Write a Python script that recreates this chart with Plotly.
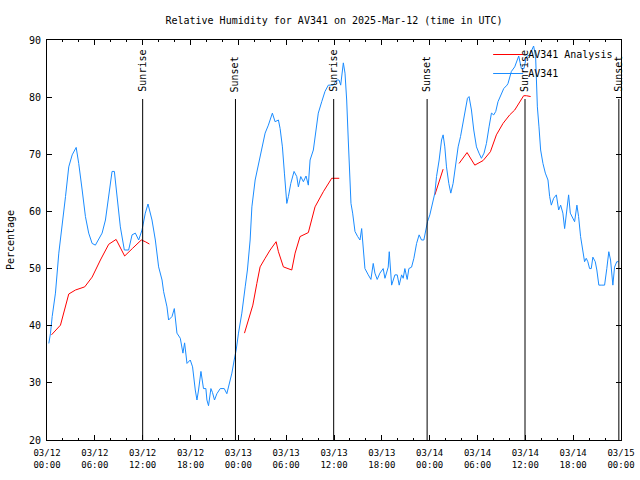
import pandas as pd
import plotly.graph_objects as go

base = pd.Timestamp("2025-03-12 00:00")

# AV341 observations: hours after 2025-03-12 00:00 UTC, relative humidity (%)
obs_hours = [0.23, 0.44, 0.65, 1.06, 1.48, 1.90, 2.32, 2.73, 3.16, 3.66, 3.98, 4.41, 4.82, 5.23, 5.66,
             6.07, 6.49, 6.91, 7.33, 7.74, 8.16, 8.45, 8.79, 9.20, 9.70, 10.24, 10.67, 11.08, 11.50,
             11.92, 12.33, 12.67, 13.17, 13.59, 14.00, 14.43, 14.63, 15.05, 15.25, 15.68, 15.97,
             16.30, 16.72, 17.05, 17.26, 17.56, 17.97, 18.26, 18.60, 18.81, 19.01, 19.31, 19.63,
             19.93, 20.06, 20.26, 20.56, 20.76, 21.01, 21.31, 21.73, 22.23, 22.56, 22.89, 23.19,
             23.48, 23.73, 24.02, 24.44, 24.86, 25.14, 25.48, 25.70, 26.11, 26.52, 26.95, 27.36,
             27.77, 28.27, 28.61, 29.03, 29.24, 29.53, 29.78, 30.08, 30.28, 30.58, 30.99, 31.33,
             31.53, 31.83, 32.16, 32.49, 32.78, 33.00, 33.41, 33.62, 34.03, 34.46, 34.87, 35.29,
             35.91, 36.34, 36.63, 36.84, 37.17, 37.38, 37.59, 37.79, 38.00, 38.13, 38.34, 38.63,
             38.97, 39.26, 39.47, 39.67, 39.88, 40.30, 40.63, 40.92, 41.13, 41.42, 41.76, 42.17,
             42.39, 42.80, 42.93, 43.23, 43.64, 43.93, 44.18, 44.48, 44.68, 44.89, 45.18, 45.39,
             45.73, 46.02, 46.36, 46.68, 46.98, 47.27, 47.52, 47.73, 48.02, 48.36, 48.65, 48.86,
             49.19, 49.49, 49.69, 49.90, 50.11, 50.40, 50.65, 50.94, 51.24, 51.57, 51.87, 52.19,
             52.53, 52.74, 52.94, 53.24, 53.53, 53.87, 54.19, 54.49, 54.82, 55.12, 55.45, 55.75,
             56.04, 56.29, 56.57, 56.91, 57.29, 57.70, 57.83, 58.25, 58.67, 59.17, 59.50, 59.83,
             60.13, 60.54, 61.04, 61.29, 61.51, 61.71, 61.92, 62.21, 62.51, 62.84, 63.05, 63.26,
             63.55, 63.89, 64.18, 64.43, 64.71, 64.93, 65.14, 65.43, 65.64, 65.97, 66.18, 66.47,
             66.68, 66.93, 67.22, 67.43, 67.64, 67.84, 68.06, 68.27, 68.47, 68.77, 68.97, 69.22,
             69.60, 69.94, 70.22, 70.47, 70.69, 70.85, 70.98, 71.19, 71.47, 71.69]
obs_rh = [36.9, 38.7, 41.6, 45.7, 52.7, 57.3, 62.6, 67.8, 69.9, 71.2, 68.4, 63.75, 59.1, 56.2, 54.4,
          54.1, 55.1, 56.2, 58.5, 62.6, 67.0, 67.0, 62.0, 57.3, 53.25, 53.25, 55.9, 56.2, 55.0,
          56.75, 59.7, 61.3, 58.5, 55.0, 50.3, 48.0, 45.95, 43.3, 41.0, 41.6, 43.0,
          38.7, 37.8, 35.2, 37.0, 33.4, 34.0, 32.8, 28.75, 27.0, 28.75, 32.0, 29.0,
          29.0, 27.0, 26.0, 29.0, 28.3, 27.0, 28.1, 29.0, 29.0, 28.1, 29.9, 31.7,
          34.0, 35.75, 38.7, 42.2, 46.8, 49.75, 55.0, 60.8, 65.5, 68.4, 71.3, 73.7,
          75.1, 77.2, 75.7, 76.0, 74.5, 71.3, 66.7, 61.4, 62.6, 64.9, 67.0, 66.1,
          64.3, 66.1, 65.2, 66.2, 64.6, 69.0, 70.75, 73.1, 77.2, 79.2, 81.0, 82.1,
          82.1, 83.0, 83.0, 82.1, 86.0, 84.2, 79.5, 72.5, 66.7, 61.4, 59.7, 56.5,
          55.6, 55.0, 57.0, 53.25, 50.0, 48.9, 48.1, 50.9, 49.2, 48.1, 49.2, 50.0,
          48.3, 50.25, 52.95, 47.1, 48.9, 48.9, 47.1, 48.9, 48.3, 50.0, 48.1, 50.0,
          50.25, 51.8, 54.4, 55.9, 55.0, 55.0, 56.75, 58.2, 59.4, 61.4, 63.2, 66.1,
          69.0, 72.5, 73.4, 71.3, 67.8, 64.9, 63.2, 64.9, 67.8, 71.3, 73.1, 75.4,
          78.3, 79.8, 80.1, 77.75, 74.25, 71.3, 70.2, 69.3, 70.2, 71.9, 74.8, 77.2,
          76.9, 77.5, 79.2, 80.4, 81.5, 82.1, 82.4, 84.5, 85.3, 87.2, 85.0, 85.0,
          87.1, 87.4, 88.95, 87.1, 78.3, 74.8, 70.75, 68.4, 66.7, 65.5, 62.6, 61.1,
          62.3, 62.9, 60.25, 61.1, 59.7, 57.0, 59.1, 62.9, 59.7, 58.8, 58.2, 61.1,
          59.1, 55.6, 52.7, 51.2, 51.8, 51.2, 50.0, 50.0, 52.0, 51.2, 49.75, 47.1,
          47.1, 47.1, 50.0, 52.95, 51.5, 49.2, 47.1, 50.25, 51.2, 51.2]

# AV341 Analysis (None = gap in the analysis series)
ana_hours = [0.56, 1.69, 2.73, 3.57, 4.73, 5.66, 6.70, 7.74, 8.67, 9.74, 10.74, 11.83, 12.33, 12.84,
             18.0,
             24.77, 25.27, 25.82, 26.32, 26.73, 27.36, 27.99, 28.74, 29.03, 29.65, 30.70, 31.12,
             31.74, 32.78, 33.62, 34.66, 35.71, 36.66,
             42.0,
             48.65, 49.69,
             50.7,
             51.69, 52.69, 53.66, 54.70, 55.62, 56.37, 57.20, 58.04, 58.67, 59.29, 59.79, 60.13, 60.67]
ana_rh = [38.4, 40.1, 45.55, 46.25, 46.8, 48.5, 51.5, 54.25, 55.1, 52.2, 53.55, 55.0, 54.7, 54.3,
          None,
          38.7, 41.0, 43.6, 47.4, 50.3, 51.8, 53.25, 54.7, 52.95, 50.3, 49.75, 52.7,
          55.6, 56.3, 60.8, 63.45, 65.8, 65.8,
          None,
          62.9, 67.4,
          None,
          68.4, 70.3, 68.1, 68.9, 70.45, 73.4, 75.4, 76.9, 77.75, 79.2, 80.25, 80.25, 80.1]

# Sun events (hours after 2025-03-12 00:00 UTC)
event_hours = [12.0, 23.64, 35.96, 47.68, 59.96, 71.73]
event_labels = ["Sunrise", "Sunset", "Sunrise", "Sunset", "Sunrise", "Sunset"]

y_ticks = [20, 30, 40, 50, 60, 70, 80, 90]


def to_time(hours):
    return [base + pd.Timedelta(hours=h) for h in hours]


FONT = "DejaVu Sans Mono"

fig = go.Figure()
fig.add_trace(go.Scatter(x=to_time(ana_hours), y=ana_rh, mode="lines", name="AV341 Analysis",
                         line=dict(color="#ff0000", width=1), connectgaps=False))
fig.add_trace(go.Scatter(x=to_time(obs_hours), y=obs_rh, mode="lines", name="AV341",
                         line=dict(color="#1a8cff", width=1)))

for h, lab in zip(event_hours, event_labels):
    t = base + pd.Timedelta(hours=h)
    fig.add_shape(type="line", xref="x", yref="paper", x0=t, x1=t, y0=0, y1=0.8525,
                  line=dict(color="black", width=1))
    fig.add_annotation(x=t, xref="x", y=0.8525, yref="paper", text=lab, textangle=-90,
                       showarrow=False, xanchor="center", yanchor="bottom", yshift=5,
                       font=dict(family=FONT, size=10, color="black"))

fig.update_layout(
    width=640, height=480,
    margin=dict(l=47, r=19, t=40, b=40, autoexpand=False),
    paper_bgcolor="white", plot_bgcolor="white",
    title=dict(text="Relative Humidity for AV341 on 2025-Mar-12 (time in UTC)",
               xref="paper", x=0.5, xanchor="center", yref="container", y=1 - 20 / 480,
               yanchor="middle", font=dict(family=FONT, size=10, color="black"),
               automargin=False),
    font=dict(family=FONT, size=9, color="black"),
    showlegend=True,
    legend=dict(x=0.995, xanchor="right", y=1.0, yanchor="top", bgcolor="rgba(0,0,0,0)",
                font=dict(family=FONT, size=10), tracegroupgap=0, itemwidth=30),
    xaxis=dict(range=[base, base + pd.Timedelta(hours=72)], type="date",
               tick0=base, dtick=6 * 3600 * 1000, tickformat="%m/%d<br>%H:%M",
               ticks="inside", ticklen=5, tickcolor="black", showgrid=False,
               showline=True, linecolor="black", linewidth=1, mirror="allticks",
               zeroline=False, automargin=False, ticklabelstandoff=4,
               minor=dict(ticks="inside", ticklen=2, dtick=2 * 3600 * 1000, tick0=base,
                          tickcolor="black", showgrid=False)),
    yaxis=dict(range=[20, 90], tickvals=y_ticks, ticks="inside", ticklen=5, tickcolor="black",
               showgrid=False, showline=True, linecolor="black", linewidth=1, mirror="allticks",
               zeroline=False, automargin=False, ticklabelstandoff=3,
               tickfont=dict(family=FONT, size=10),
               title=dict(text="Percentage", font=dict(family=FONT, size=10), standoff=12)),
)

fig.write_html("out.html", config={"displayModeBar": False},
               post_script="document.body.style.margin='0';document.body.style.padding='0';")
